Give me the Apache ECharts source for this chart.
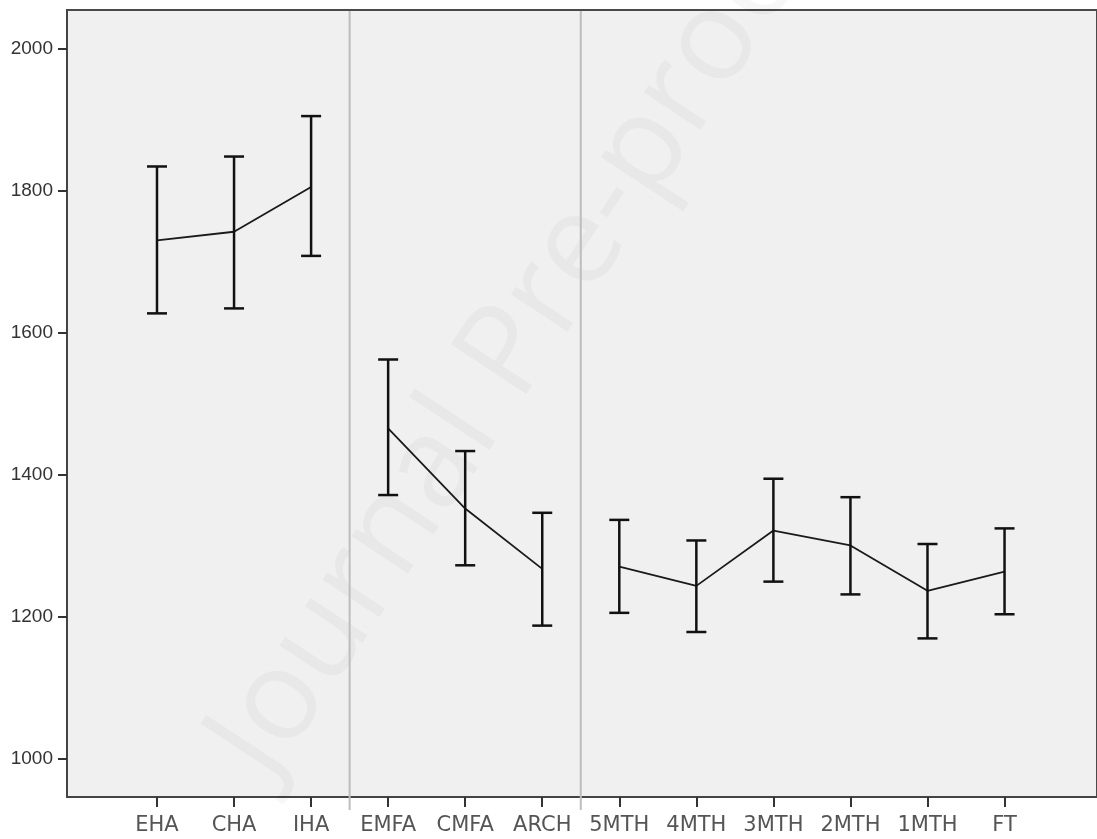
<!DOCTYPE html>
<html>
<head>
<meta charset="utf-8">
<script src="https://cdn.jsdelivr.net/npm/echarts@6/dist/echarts.min.js"></script>
<style>
  html, body { margin: 0; padding: 0; background: #fff; }
  #chart { width: 1097px; height: 839px; }
</style>
</head>
<body>
<div id="chart"></div>
<script>
var cats = ['EHA', 'CHA', 'IHA', 'EMFA', 'CMFA', 'ARCH', '5MTH', '4MTH', '3MTH', '2MTH', '1MTH', 'FT'];
var means = [1730, 1742, 1805, 1465, 1352, 1267, 1270, 1243, 1321, 1300, 1236, 1263];
var upper = [1834, 1848, 1905, 1562, 1433, 1346, 1336, 1307, 1394, 1368, 1302, 1324];
var lower = [1627, 1634, 1708, 1371, 1272, 1187, 1205, 1178, 1249, 1231, 1169, 1203];
// index ranges joined by the mean line
var groups = [[0, 2], [3, 5], [6, 11]];
var dividers = [2.5, 5.5];
var yTicks = [1000, 1200, 1400, 1600, 1800, 2000];

var chart = echarts.init(document.getElementById('chart'));

var barData = cats.map(function (c, i) { return [i, lower[i], upper[i]]; });
var catIdx = cats.map(function (c, i) { return i; });

var lineSeries = groups.map(function (g) {
    var d = [];
    for (var i = g[0]; i <= g[1]; i++) d.push([i, means[i]]);
    return {
        type: 'line',
        data: d,
        showSymbol: false,
        lineStyle: {color: '#1a1a1a', width: 1.8},
        z: 3
    };
});

chart.setOption({
    animation: false,
    grid: {
        left: 67, right: -3, top: 10, bottom: 42,
        show: true, backgroundColor: '#f0f0f0',
        borderColor: '#4a4a4a', borderWidth: 2
    },
    graphic: [{
        type: 'text',
        x: 520, y: 338,
        rotation: 56.6 * Math.PI / 180,
        silent: true,
        z: 1,
        style: {
            text: 'Journal Pre-proof',
            font: '127px "Open Sans"',
            align: 'center',
            verticalAlign: 'middle',
            fill: 'rgba(0,0,0,0.03)'
        }
    }],
    xAxis: {
        type: 'value',
        min: -1.168, max: 12.2,
        axisLine: {show: true, onZero: false, lineStyle: {color: '#444', width: 2}},
        axisTick: {show: true, length: 10, customValues: catIdx,
            lineStyle: {color: '#333', width: 2}},
        axisLabel: {
            customValues: catIdx,
            formatter: function (v) { return cats[Math.round(v)]; },
            margin: 18,
            fontFamily: 'DejaVu Sans', fontSize: 21, color: '#555'
        },
        splitLine: {show: false}
    },
    yAxis: {
        type: 'value',
        min: 945.5, max: 2054.5,
        axisLine: {show: true, onZero: false, lineStyle: {color: '#444', width: 2}},
        axisTick: {show: true, length: 9, customValues: yTicks, lineStyle: {color: '#333', width: 2}},
        axisLabel: {
            customValues: yTicks,
            formatter: function (v) { return String(v); },
            margin: 14,
            fontFamily: 'Liberation Sans', fontSize: 19, color: '#333'
        },
        splitLine: {show: false}
    },
    series: lineSeries.concat([
        {
            type: 'custom',
            data: dividers.map(function (x) { return [x]; }),
            z: 2,
            renderItem: function (params, api) {
                var top = api.coord([api.value(0), 2054.5]);
                var bot = api.coord([api.value(0), 945.5]);
                return {
                    type: 'line',
                    shape: {x1: top[0], y1: top[1] + 1, x2: bot[0], y2: bot[1] + 13},
                    style: {stroke: '#bdbdbd', lineWidth: 2}
                };
            }
        },
        {
            type: 'custom',
            data: barData,
            z: 4,
            renderItem: function (params, api) {
                var lo = api.coord([api.value(0), api.value(1)]);
                var hi = api.coord([api.value(0), api.value(2)]);
                var w = 10;
                var st = {stroke: '#111', lineWidth: 2.5};
                return {
                    type: 'group',
                    children: [
                        {type: 'line', shape: {x1: lo[0], y1: lo[1], x2: hi[0], y2: hi[1]}, style: st},
                        {type: 'line', shape: {x1: hi[0] - w, y1: hi[1], x2: hi[0] + w, y2: hi[1]}, style: st},
                        {type: 'line', shape: {x1: lo[0] - w, y1: lo[1], x2: lo[0] + w, y2: lo[1]}, style: st}
                    ]
                };
            }
        }
    ])
});
</script>
</body>
</html>
